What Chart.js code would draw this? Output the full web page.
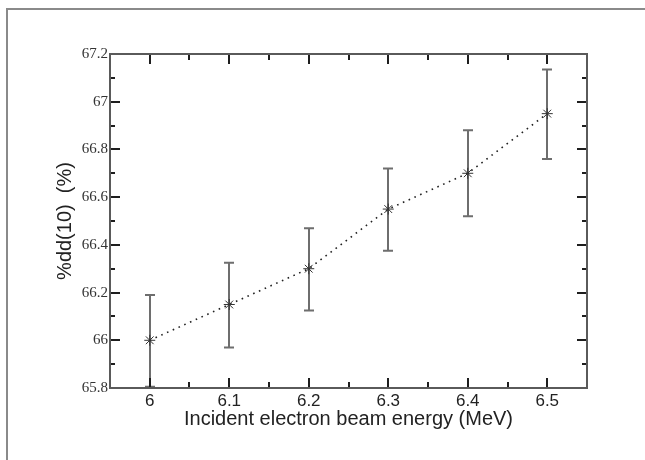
<!DOCTYPE html>
<html>
<head>
<meta charset="utf-8">
<script src="https://cdn.jsdelivr.net/npm/chart.js@4/dist/chart.umd.min.js"></script>
<style>
  html, body { margin: 0; padding: 0; background: #fff; }
  canvas { display: block; }
</style>
</head>
<body>
<canvas id="chart" width="645" height="460"></canvas>
<script>
// data
const energies = [6.0, 6.1, 6.2, 6.3, 6.4, 6.5];
const ddValues = [66.0, 66.15, 66.3, 66.55, 66.7, 66.95];
const errUpper = [66.19, 66.325, 66.47, 66.72, 66.88, 67.135];
const errLower = [65.805, 65.97, 66.125, 66.375, 66.52, 66.76];

const xTicks = [6, 6.1, 6.2, 6.3, 6.4, 6.5];
const xMinorTicks = [6.05, 6.15, 6.25, 6.35, 6.45];
const yTicks = [65.8, 66, 66.2, 66.4, 66.6, 66.8, 67, 67.2];
const yMinorTicks = [65.9, 66.1, 66.3, 66.5, 66.7, 66.9, 67.1];

// outer frame, axis box, inward ticks, error bars
const decor = {
  id: "decor",
  beforeDatasetsDraw(chart) {
    const ctx = chart.ctx;
    const xs = chart.scales.x;
    const ys = chart.scales.y;

    ctx.save();
    // picture border (only top/left visible)
    ctx.strokeStyle = "#8a8a8a";
    ctx.lineWidth = 2;
    ctx.beginPath();
    ctx.moveTo(7, 470);
    ctx.lineTo(7, 9);
    ctx.lineTo(660, 9);
    ctx.stroke();

    // error bars
    ctx.strokeStyle = "#6e6e6e";
    ctx.lineWidth = 2;
    energies.forEach((e, i) => {
      const px = Math.round(xs.getPixelForValue(e));
      const top = ys.getPixelForValue(errUpper[i]);
      const bot = ys.getPixelForValue(errLower[i]);
      ctx.beginPath();
      ctx.moveTo(px, top);
      ctx.lineTo(px, bot);
      ctx.moveTo(px - 5, top);
      ctx.lineTo(px + 5, top);
      ctx.moveTo(px - 5, bot);
      ctx.lineTo(px + 5, bot);
      ctx.stroke();
    });
    ctx.restore();
  },
  afterDraw(chart) {
    const ctx = chart.ctx;
    const xs = chart.scales.x;
    const ys = chart.scales.y;
    const a = chart.chartArea;

    ctx.save();
    ctx.strokeStyle = "#1e1e1e";
    ctx.lineWidth = 2;
    ctx.beginPath();
    const xTick = (v, len) => {
      const px = Math.round(xs.getPixelForValue(v));
      ctx.moveTo(px, a.bottom);
      ctx.lineTo(px, a.bottom - len);
      ctx.moveTo(px, a.top);
      ctx.lineTo(px, a.top + len);
    };
    const yTick = (v, len) => {
      const py = Math.round(ys.getPixelForValue(v));
      ctx.moveTo(a.left, py);
      ctx.lineTo(a.left + len, py);
      ctx.moveTo(a.right, py);
      ctx.lineTo(a.right - len, py);
    };
    xTicks.forEach((v) => xTick(v, 10));
    xMinorTicks.forEach((v) => xTick(v, 6));
    yTicks.forEach((v) => yTick(v, 10));
    yMinorTicks.forEach((v) => yTick(v, 5));
    ctx.stroke();

    // axis box
    ctx.strokeStyle = "#5a5a5a";
    ctx.lineWidth = 2;
    ctx.strokeRect(a.left, a.top, a.right - a.left, a.bottom - a.top);
    ctx.restore();
  },
};

new Chart(document.getElementById("chart"), {
  type: "line",
  data: {
    datasets: [
      {
        data: energies.map((e, i) => ({ x: e, y: ddValues[i] })),
        borderColor: "#222",
        borderWidth: 1.6,
        borderDash: [1.6, 4.7],
        pointStyle: "star",
        pointRadius: 5.5,
        pointBorderColor: "#333",
        pointBackgroundColor: "#333",
        pointBorderWidth: 1,
        tension: 0,
        fill: false,
      },
    ],
  },
  options: {
    responsive: false,
    animation: false,
    devicePixelRatio: 1,
    layout: { padding: { left: 0, top: 54, right: 58, bottom: 0 } },
    plugins: { legend: { display: false }, tooltip: { enabled: false } },
    scales: {
      x: {
        type: "linear",
        min: 5.95,
        max: 6.55,
        afterBuildTicks: (s) => { s.ticks = xTicks.map((v) => ({ value: v })); },
        afterFit: (s) => { s.height = 72; },
        grid: { display: false, drawTicks: false },
        border: { display: false },
        ticks: {
          padding: 3,
          color: "#222",
          font: { family: "Liberation Sans", size: 17 },
          callback: (v) => String(v),
        },
        title: {
          display: true,
          text: "Incident electron beam energy (MeV)",
          color: "#222",
          font: { family: "Liberation Sans", size: 20 },
          padding: { top: 0, bottom: 29 },
        },
      },
      y: {
        type: "linear",
        min: 65.8,
        max: 67.2,
        afterBuildTicks: (s) => { s.ticks = yTicks.map((v) => ({ value: v })); },
        afterFit: (s) => { s.width = 110; },
        grid: { display: false, drawTicks: false },
        border: { display: false },
        ticks: {
          padding: 2,
          color: "#333",
          font: { family: "Liberation Serif", size: 15 },
          callback: (v) => String(Math.round(v * 10) / 10),
        },
        title: {
          display: true,
          text: "%dd(10)  (%)",
          color: "#222",
          font: { family: "Liberation Sans", size: 20 },
          padding: { top: 53, bottom: 0 },
        },
      },
    },
  },
  plugins: [decor],
});
</script>
</body>
</html>
